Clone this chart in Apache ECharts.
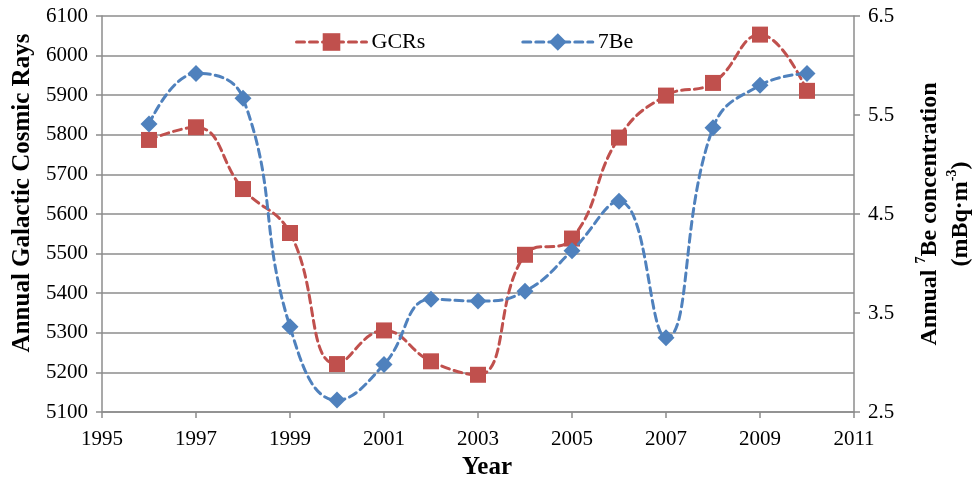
<!DOCTYPE html>
<html>
<head>
<meta charset="utf-8">
<script src="https://cdn.jsdelivr.net/npm/echarts@6/dist/echarts.min.js"></script>
<style>
  html, body { margin: 0; padding: 0; background: #fff; }
  #chart { width: 975px; height: 484px; }
</style>
</head>
<body>
<div id="chart"></div>
<script>
// Annual galactic cosmic ray counts vs. annual 7Be concentration, 1996–2010
const years = [1996, 1997, 1998, 1999, 2000, 2001, 2002, 2003, 2004, 2005, 2006, 2007, 2008, 2009, 2010];
const gcrs = [5787, 5819, 5663, 5552, 5221, 5306, 5228, 5194, 5497, 5538, 5793, 5899, 5931, 6053, 5911];
const be7 = [5.41, 5.92, 5.67, 3.36, 2.62, 2.98, 3.64, 3.62, 3.72, 4.13, 4.63, 3.25, 5.37, 5.80, 5.92];

const FONT = '"Liberation Serif", "Times New Roman", serif';
const AXIS_GRAY = '#8c8c8c';
const RED = '#C0504D';
const BLUE = '#4F81BD';
const DASH = [8, 5];

const chart = echarts.init(document.getElementById('chart'), null, { renderer: 'canvas' });

const pair = (xs, ys) => xs.map((x, i) => [x, ys[i]]);

chart.setOption({
  animation: false,
  backgroundColor: '#fff',
  textStyle: { fontFamily: FONT, color: '#000' },
  grid: { left: 102, right: 121, top: 16, bottom: 72, containLabel: false },
  legend: {
    left: 290,
    top: 26,
    itemWidth: 70,
    itemHeight: 22,
    itemGap: 96,
    lineStyle: { width: 3, type: DASH },
    textStyle: { fontFamily: FONT, fontSize: 22, color: '#000' },
    data: ['GCRs', '7Be']
  },
  xAxis: {
    type: 'value',
    min: 1995,
    max: 2011,
    interval: 2,
    axisLine: { lineStyle: { color: AXIS_GRAY, width: 1.5 } },
    axisTick: { show: true, length: 6, lineStyle: { color: AXIS_GRAY, width: 1.5 } },
    axisLabel: { fontFamily: FONT, fontSize: 21, color: '#000', margin: 17, formatter: v => String(v) },
    splitLine: { show: false }
  },
  yAxis: [
    {
      type: 'value',
      min: 5100,
      max: 6100,
      interval: 100,
      axisLine: { show: true, lineStyle: { color: AXIS_GRAY, width: 1.5 } },
      axisTick: { show: true, length: 6, lineStyle: { color: AXIS_GRAY, width: 1.5 } },
      axisLabel: { fontFamily: FONT, fontSize: 21, color: '#000', margin: 14, formatter: v => String(v) },
      splitLine: { show: true, lineStyle: { color: AXIS_GRAY, width: 1.5 } }
    },
    {
      type: 'value',
      min: 2.5,
      max: 6.5,
      interval: 1,
      position: 'right',
      axisLine: { show: true, lineStyle: { color: AXIS_GRAY, width: 1.5 } },
      axisTick: { show: true, length: 6, lineStyle: { color: AXIS_GRAY, width: 1.5 } },
      axisLabel: {
        fontFamily: FONT, fontSize: 21, color: '#000', margin: 14,
        formatter: v => v.toFixed(1)
      },
      splitLine: { show: false }
    }
  ],
  series: [
    {
      name: 'GCRs',
      type: 'line',
      yAxisIndex: 0,
      data: pair(years, gcrs),
      smooth: 0.45,
      symbol: 'rect',
      symbolSize: 16,
      itemStyle: { color: RED },
      lineStyle: { color: RED, width: 3, type: DASH, cap: 'round' },
      z: 3
    },
    {
      name: '7Be',
      type: 'line',
      yAxisIndex: 1,
      data: pair(years, be7),
      smooth: 0.45,
      symbol: 'diamond',
      symbolSize: 17,
      itemStyle: { color: BLUE },
      lineStyle: { color: BLUE, width: 3, type: DASH, cap: 'round' },
      z: 4
    }
  ],
  graphic: [
    {
      type: 'text',
      x: 23,
      y: 193,
      rotation: Math.PI / 2,
      style: {
        text: 'Annual Galactic Cosmic Rays',
        font: 'bold 25px ' + FONT,
        fill: '#000',
        align: 'center',
        verticalAlign: 'middle'
      }
    },
    {
      type: 'text',
      x: 942,
      y: 214,
      rotation: Math.PI / 2,
      style: {
        text: '{b|Annual }{sup|7}{b|Be concentration}\n{b|(mBq·m}{sup|-3}{b|)}',
        fill: '#000',
        align: 'center',
        verticalAlign: 'middle',
        lineHeight: 31,
        rich: {
          b: { font: 'bold 24px ' + FONT, lineHeight: 31, verticalAlign: 'bottom' },
          sup: { font: 'bold 14px ' + FONT, lineHeight: 31, verticalAlign: 'top', padding: [3, 0, 0, 0] }
        }
      }
    },
    {
      type: 'text',
      x: 487,
      y: 468,
      style: {
        text: 'Year',
        font: 'bold 25px ' + FONT,
        fill: '#000',
        align: 'center',
        verticalAlign: 'middle'
      }
    }
  ]
});
</script>
</body>
</html>
